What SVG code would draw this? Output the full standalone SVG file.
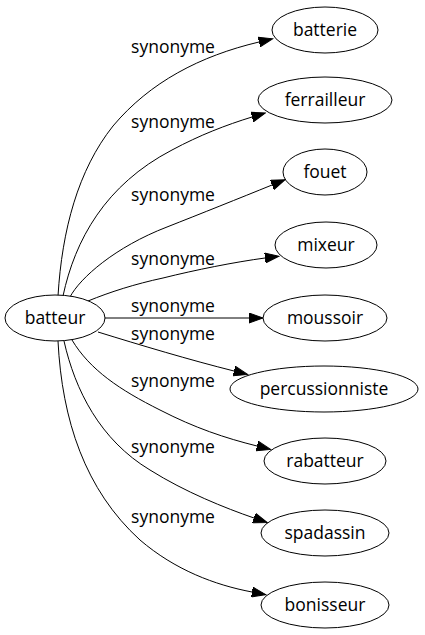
<svg xmlns="http://www.w3.org/2000/svg" width="425" height="635" viewBox="0 0 425 635">
<style>
  .node ellipse { fill: #ffffff; stroke: #000000; stroke-width: 1; }
  .node text { font-family: "Open Sans", "Liberation Sans", sans-serif; font-size: 17.5px; fill: #000000; text-anchor: middle; }
  .edges path { fill: none; stroke: #000000; stroke-width: 1; marker-end: url(#arrow); }
  .edges text { font-family: "Open Sans", "Liberation Sans", sans-serif; font-size: 17.5px; fill: #000000; text-anchor: middle; }
</style>
<defs>
  <marker id="arrow" markerUnits="userSpaceOnUse" markerWidth="15" markerHeight="11" viewBox="0 0 15 11" refX="0" refY="5.5" orient="auto">
    <path d="M0,0.5 L14,5.5 L0,10.5 Z" fill="#000000" stroke="#000000" stroke-width="1"/>
  </marker>
</defs>
<rect width="425" height="635" fill="#ffffff"/>
<g class="edges" id="edges">
  <path d="M58,296 C62,230 78,170 113,126 C150,82 200,56 259,42"/>
  <text x="173" y="52.5">synonyme</text>
  <path d="M63,296 C75,240 105,185 172,150 C200,135 226,125 252,117"/>
  <text x="173" y="128">synonyme</text>
  <path d="M70,297 C80,278 115,247 167,227 C200,214 240,198 272,185"/>
  <text x="173" y="200.5">synonyme</text>
  <path d="M88,301 C110,292 135,284 163,278 C195,270 235,262 265,258"/>
  <text x="173" y="265">synonyme</text>
  <path d="M105,318 L249,318"/>
  <text x="173" y="311.5">synonyme</text>
  <path d="M98,332 C140,345 190,360 234,371"/>
  <text x="173" y="340">synonyme</text>
  <path d="M72,340 C90,370 120,390 160,410 C195,428 225,438 257,446"/>
  <text x="173" y="386.5">synonyme</text>
  <path d="M64,341 C75,390 100,440 150,470 C185,492 225,508 254,518"/>
  <text x="173" y="452.5">synonyme</text>
  <path d="M58,341 C62,420 85,490 140,540 C175,570 215,585 252,592"/>
  <text x="173" y="523">synonyme</text>
</g>
<g class="node" id="batteur">
  <ellipse cx="55" cy="318" rx="50" ry="23"/>
  <text x="55" y="323.5">batteur</text>
</g>
<g class="node" id="batterie">
  <ellipse cx="325" cy="30" rx="53" ry="23"/>
  <text x="325" y="35.5">batterie</text>
</g>
<g class="node" id="ferrailleur">
  <ellipse cx="325" cy="100" rx="67" ry="23"/>
  <text x="325" y="105.5">ferrailleur</text>
</g>
<g class="node" id="fouet">
  <ellipse cx="325" cy="172" rx="42" ry="23"/>
  <text x="325" y="177.5">fouet</text>
</g>
<g class="node" id="mixeur">
  <ellipse cx="326" cy="245" rx="51" ry="23"/>
  <text x="326" y="250.5">mixeur</text>
</g>
<g class="node" id="moussoir">
  <ellipse cx="325" cy="318" rx="62" ry="23"/>
  <text x="325" y="323.5">moussoir</text>
</g>
<g class="node" id="percussionniste">
  <ellipse cx="324" cy="389" rx="94" ry="23"/>
  <text x="324" y="394.5">percussionniste</text>
</g>
<g class="node" id="rabatteur">
  <ellipse cx="325" cy="461" rx="61" ry="23"/>
  <text x="325" y="466.5">rabatteur</text>
</g>
<g class="node" id="spadassin">
  <ellipse cx="325" cy="533" rx="64" ry="23"/>
  <text x="325" y="538.5">spadassin</text>
</g>
<g class="node" id="bonisseur">
  <ellipse cx="325" cy="605" rx="64" ry="23"/>
  <text x="325" y="610.5">bonisseur</text>
</g>
</svg>
